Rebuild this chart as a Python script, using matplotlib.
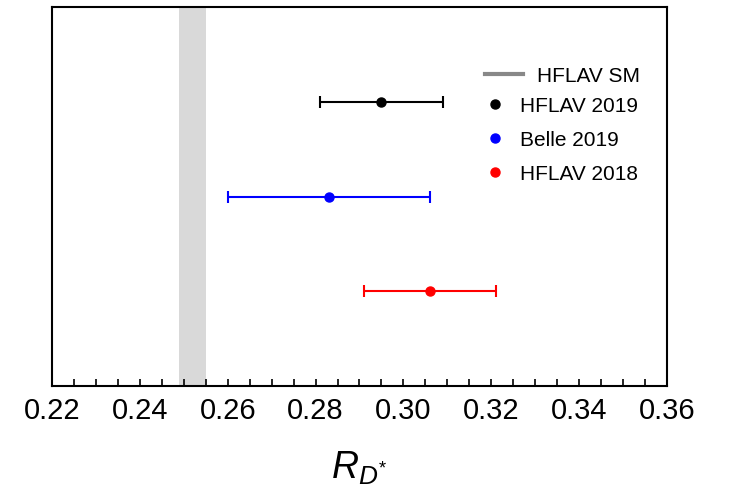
import numpy as np
import matplotlib.pyplot as plt
from matplotlib.lines import Line2D

plt.rcParams['font.family'] = ['Liberation Sans', 'DejaVu Sans']
plt.rcParams['mathtext.fontset'] = 'custom'
plt.rcParams['mathtext.it'] = 'Liberation Sans:italic'
plt.rcParams['mathtext.rm'] = 'Liberation Sans'

# measurements of R(D*)
labels = ["HFLAV 2019", "Belle 2019", "HFLAV 2018"]
centers = [0.295, 0.283, 0.306]
errors = [0.014, 0.023, 0.015]
colors = ['black', 'blue', 'red']
ypos = [3, 2, 1]

# SM prediction band
sm_center = 0.252
sm_err = 0.003

fig = plt.figure(figsize=(7.3, 4.9), dpi=100)
ax = fig.add_axes([0.0712, 0.2122, 0.8425, 0.7735])

ax.axvspan(sm_center - sm_err, sm_center + sm_err, color='#d9d9d9', lw=0, zorder=0)

for c, e, col, y in zip(centers, errors, colors, ypos):
    ax.errorbar(c, y, xerr=e, fmt='o', color=col, ms=6.5, elinewidth=1.5,
                capsize=4, capthick=1.5)

ax.set_xlim(0.22, 0.36)
ax.set_ylim(0, 4)
ax.set_xticks(np.arange(0.22, 0.3601, 0.02))
ax.set_xticks(np.arange(0.22, 0.3601, 0.005), minor=True)
ax.set_xticklabels(["%.2f" % t for t in np.arange(0.22, 0.3601, 0.02)])
ax.tick_params(axis='x', which='both', direction='in', length=5, width=1.2,
               labelsize=21, pad=8)
ax.set_yticks([])
for s in ax.spines.values():
    s.set_linewidth(1.5)

ax.set_xlabel(r"$R_{D^{*}}$", fontsize=27, labelpad=18)

# legends: SM line and the measurement dots
sm_handle = [Line2D([], [], color='#888888', lw=3)]
leg1 = fig.legend(sm_handle, ["HFLAV SM"], loc='center left',
                  bbox_to_anchor=(484.5 / 730, (490 - 76) / 490),
                  frameon=False, fontsize=15, handlelength=1.86,
                  handletextpad=0.68, borderpad=0, borderaxespad=0)
dot_handles = [Line2D([], [], ls='none', marker='o', color=col, ms=6.5)
               for col in colors]
leg2 = fig.legend(dot_handles, labels, loc='center left',
                  bbox_to_anchor=(484.5 / 730, (490 - 140) / 490),
                  frameon=False, fontsize=15, handlelength=1.0,
                  handletextpad=0.7, labelspacing=0.72,
                  borderpad=0, borderaxespad=0)

fig.savefig("out.png", dpi=100)
